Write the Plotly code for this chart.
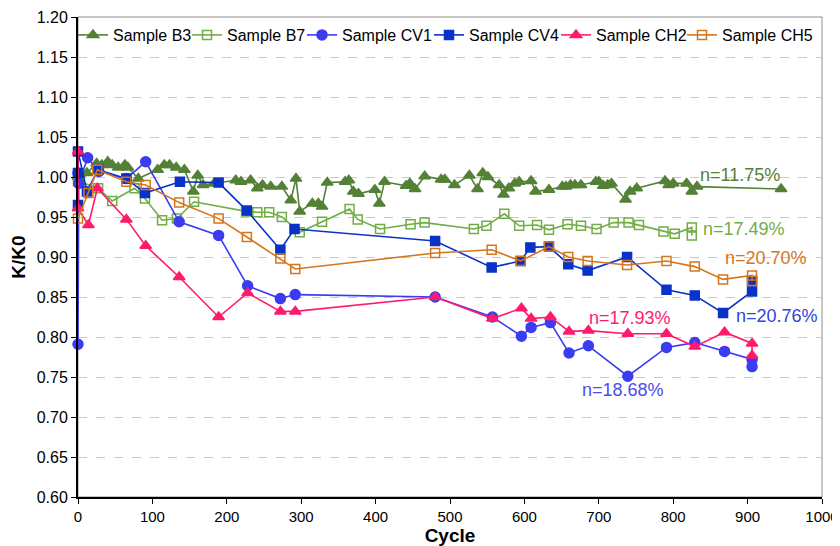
import plotly.graph_objects as go

# ---- data ----
b3_x = [0, 3, 12, 25, 32, 40, 46, 54, 63, 67, 81, 107, 116, 123, 132, 143, 155, 161, 168, 183,
        212, 219, 232, 241, 248, 259, 274, 286, 293, 298, 315, 323, 328, 335, 359, 364, 370, 377,
        399, 405, 412, 441, 446, 453, 466, 488, 493, 506, 526, 537, 544, 551, 566, 572, 579, 587,
        593, 609, 615, 633, 651, 656, 662, 668, 676, 696, 700, 706, 712, 717, 736, 742, 751, 789,
        794, 800, 818, 825, 832, 945]
b3_y = [1.000, 0.993, 1.005, 1.017, 1.015, 1.019, 1.015, 1.012, 1.015, 1.012, 0.998, 1.009, 1.015,
        1.015, 1.012, 1.009, 0.982, 1.002, 0.990, 0.992, 0.996, 0.994, 0.996, 0.986, 0.990, 0.988,
        0.988, 0.971, 0.998, 0.957, 0.967, 0.967, 0.963, 0.993, 0.994, 0.996, 0.982, 0.979, 0.984,
        0.967, 0.994, 0.989, 0.992, 0.985, 1.001, 0.997, 0.997, 0.990, 1.002, 0.985, 1.005, 1.000,
        0.990, 0.978, 0.986, 0.992, 0.994, 0.995, 0.982, 0.984, 0.988, 0.988, 0.990, 0.990, 0.990,
        0.994, 0.994, 0.989, 0.990, 0.992, 0.972, 0.982, 0.986, 0.995, 0.990, 0.992, 0.992, 0.982,
        0.988, 0.985]

b7_x = [0, 27, 46, 76, 90, 113, 133, 156, 226, 241, 257, 274, 298, 328, 365, 376, 406, 447, 466,
        532, 549, 573, 593, 617, 633, 658, 676, 697, 720, 740, 754, 787, 802, 825, 825]
b7_y = [0.995, 0.986, 0.970, 0.986, 0.973, 0.946, 0.948, 0.969, 0.957, 0.956, 0.956, 0.950, 0.931,
        0.944, 0.960, 0.947, 0.935, 0.941, 0.943, 0.935, 0.939, 0.954, 0.939, 0.940, 0.934, 0.941,
        0.939, 0.935, 0.943, 0.943, 0.940, 0.932, 0.929, 0.937, 0.927]

cv1_x = [0, 0, 1, 13, 28, 65, 91, 136, 189, 228, 272, 292, 480, 557, 596, 609, 635, 660, 686,
         739, 791, 829, 869, 906, 906]
cv1_y = [1.005, 0.791, 0.992, 1.024, 1.007, 0.998, 1.019, 0.944, 0.927, 0.864, 0.848, 0.853,
         0.850, 0.825, 0.801, 0.812, 0.818, 0.780, 0.789, 0.751, 0.787, 0.793, 0.782, 0.772, 0.763]

cv4_x = [0, 0, 0, 12, 27, 65, 90, 137, 189, 227, 272, 291, 480, 556, 595, 608, 633, 659, 685,
         738, 791, 829, 867, 906, 906]
cv4_y = [1.005, 0.965, 1.032, 0.982, 1.009, 0.998, 0.980, 0.994, 0.993, 0.958, 0.909, 0.935,
         0.920, 0.887, 0.895, 0.912, 0.913, 0.891, 0.883, 0.900, 0.859, 0.852, 0.830, 0.857, 0.870]

ch2_x = [0, 0, 14, 26, 65, 91, 136, 189, 228, 272, 292, 480, 557, 596, 609, 635, 660, 686, 739,
         791, 829, 869, 906, 906]
ch2_y = [1.032, 0.961, 0.940, 0.986, 0.947, 0.914, 0.875, 0.825, 0.855, 0.832, 0.832, 0.850,
         0.823, 0.836, 0.823, 0.825, 0.807, 0.808, 0.804, 0.804, 0.788, 0.806, 0.792, 0.777]

ch5_x = [0, 14, 26, 65, 91, 136, 189, 227, 272, 292, 480, 556, 595, 633, 659, 685, 738, 791,
         829, 867, 906, 906]
ch5_y = [0.948, 0.980, 1.009, 0.994, 0.990, 0.968, 0.948, 0.925, 0.898, 0.885, 0.905, 0.909,
         0.895, 0.913, 0.900, 0.895, 0.890, 0.895, 0.888, 0.872, 0.877, 0.870]

names = ["Sample B3", "Sample B7", "Sample CV1", "Sample CV4", "Sample CH2", "Sample CH5"]

ann_text = ["n=11.75%", "n=17.49%", "n=20.70%", "n=20.76%", "n=17.93%", "n=18.68%"]
ann_x = [890, 895, 925, 939, 742, 733]
ann_y = [1.003, 0.935, 0.899, 0.826, 0.824, 0.734]

x_ticks = list(range(0, 1001, 100))
y_ticks = [round(0.60 + 0.05 * i, 2) for i in range(13)]

# ---- styles ----
c_b3 = "#538135"
c_b7 = "#70AD47"
c_cv1 = "#3B3BF2"
c_cv4 = "#0A32C8"
c_ch2 = "#FF1A6E"
c_ch5 = "#D5761D"
ann_colors = [c_b3, c_b7, c_ch5, "#2E46D6", c_ch2, "#4C4CEE"]

FONT = "Liberation Sans, Arial, sans-serif"

# page body has an 8px margin -> figure is 8px smaller than the window
W, H = 832, 538
ML, MR, MT, MB = 70, 18, 9, 49
PW = W - ML - MR
PH = H - MT - MB

# legend left edges in window px (one legend per series, to match reference spacing)
leg_px = [73, 187, 302, 429, 556, 682]

fig = go.Figure()
series = [
    (b3_x, b3_y, c_b3, "triangle-up", 10),
    (b7_x, b7_y, c_b7, "square-open", 9),
    (cv1_x, cv1_y, c_cv1, "circle", 10),
    (cv4_x, cv4_y, c_cv4, "square", 9),
    (ch2_x, ch2_y, c_ch2, "triangle-up", 10),
    (ch5_x, ch5_y, c_ch5, "square-open", 9),
]
legend_layouts = {}
for i, ((xs, ys, col, sym, sz), nm) in enumerate(zip(series, names)):
    lname = "legend" if i == 0 else f"legend{i+1}"
    fig.add_trace(go.Scatter(
        x=xs, y=ys, name=nm, mode="lines+markers",
        line=dict(color=col, width=1.6),
        marker=dict(symbol=sym, size=sz, color=col, line=dict(color=col, width=1.5)),
        cliponaxis=False, legend=lname,
    ))
    legend_layouts[lname] = dict(
        orientation="h", x=(leg_px[i] - 8 - ML) / PW, y=1.0 - 1 / PH,
        xanchor="left", yanchor="top",
        bgcolor="rgba(0,0,0,0)", font=dict(family=FONT, size=16, color="black"), itemwidth=30)

for t, ax, ay, col in zip(ann_text, ann_x, ann_y, ann_colors):
    fig.add_annotation(x=ax, y=ay, text=t, showarrow=False,
                       font=dict(family=FONT, size=18, color=col))

# plot frame (top/right grey)
fig.add_shape(type="rect", xref="paper", yref="paper", x0=0, y0=0, x1=1, y1=1,
              line=dict(color="#8C8C8C", width=1), layer="below")

fig.update_layout(
    width=W, height=H,
    margin=dict(l=ML, r=MR, t=MT, b=MB),
    paper_bgcolor="white", plot_bgcolor="white",
    font=dict(family=FONT, size=16, color="black"),
    showlegend=True,
    xaxis=dict(range=[0, 1000], tickvals=x_ticks, ticktext=[str(v) for v in x_ticks],
               automargin=False, tickfont=dict(size=15),
               showgrid=False, zeroline=False, showline=True, linecolor="black", linewidth=2,
               ticks="outside", ticklen=5, tickcolor="black", tickwidth=1,
               title=dict(text="<b>Cycle</b>", font=dict(size=19), standoff=6)),
    yaxis=dict(range=[0.60, 1.20], tickvals=y_ticks, ticktext=[f"{v:.2f}" for v in y_ticks],
               automargin=False, tickfont=dict(size=16),
               showgrid=True, gridcolor="#C8C8C8", griddash="dash", gridwidth=1,
               zeroline=False, showline=True, linecolor="black", linewidth=2,
               ticks="outside", ticklen=5, tickcolor="black", tickwidth=1,
               title=dict(text="<b>K/K0</b>", font=dict(size=19), standoff=8)),
)
fig.update_layout(**legend_layouts)

fig.write_html("out.html")
